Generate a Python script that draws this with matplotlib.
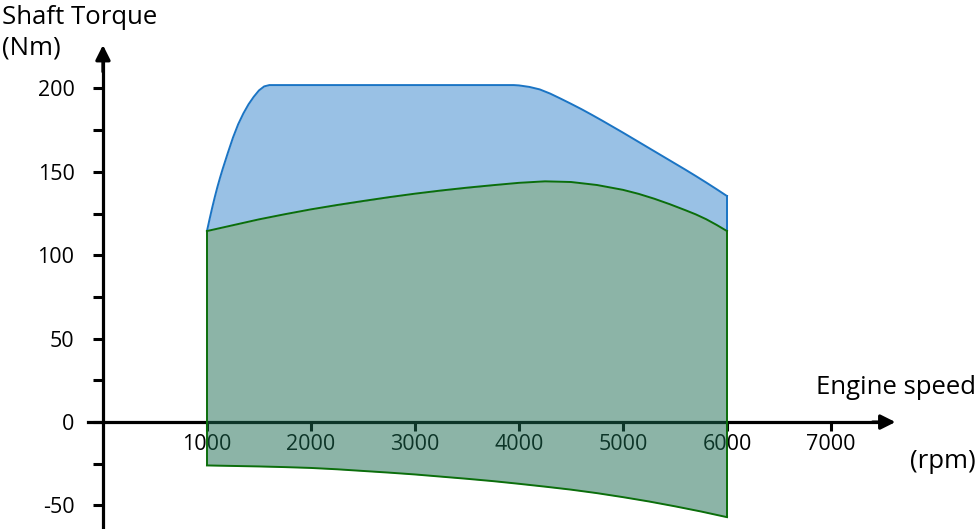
# -*- coding: utf-8 -*-

"""
发动机扭矩-转速图
"""

import matplotlib
matplotlib.use('Agg')
import matplotlib.pyplot as plt
import numpy as np

matplotlib.rcParams['font.family'] = ['Open Sans', 'DejaVu Sans']
matplotlib.rcParams['axes.unicode_minus'] = False

# 最大扭矩曲线 (rpm, Nm)
max_rpm = [1000, 1025, 1050, 1075, 1100, 1125, 1150, 1200, 1250, 1300, 1350,
           1400, 1450, 1500, 1550, 1600, 2000, 3000, 3950, 4000, 4100, 4200,
           4300, 4400, 4500, 4600, 4700, 4800, 4900, 5000, 5100, 5200, 5300,
           5400, 5500, 5600, 5700, 5800, 5900, 6000]
max_torque = [114.5, 121.6, 128.4, 134.8, 140.8, 146.3, 151.5, 161.2, 170.5,
              178.5, 185, 190.5, 195, 198.8, 201.2, 202, 202, 202, 202, 201.8,
              200.9, 199.4, 196.9, 193.9, 190.8, 187.6, 184.2, 180.7, 177.1,
              173.5, 169.8, 166.1, 162.4, 158.7, 155, 151.3, 147.5, 143.6,
              139.6, 135.5]

# 常用扭矩曲线
mid_rpm = [1000, 1250, 1500, 1750, 2000, 2250, 2500, 2750, 3000, 3250, 3500,
           3750, 4000, 4250, 4500, 4750, 5000, 5150, 5300, 5450, 5600, 5700,
           5800, 5900, 6000]
mid_torque = [114.5, 118, 121.5, 124.6, 127.5, 130.1, 132.5, 134.8, 136.9,
              138.8, 140.5, 142, 143.4, 144.3, 143.9, 142.1, 139.2, 136.8,
              133.9, 130.6, 127, 124.5, 121.6, 118.2, 114.5]

# 拖动扭矩曲线
low_rpm = [1000, 1250, 1500, 1750, 2000, 2250, 2500, 2750, 3000, 3250, 3500,
           3750, 4000, 4250, 4500, 4750, 5000, 5250, 5500, 5750, 6000]
low_torque = [-26, -26.3, -26.6, -27, -27.5, -28.3, -29.3, -30.3, -31.4,
              -32.7, -34, -35.4, -37, -38.7, -40.5, -42.6, -45, -47.6, -50.5,
              -53.6, -57]

x_ticks = [1000, 2000, 3000, 4000, 5000, 6000, 7000]
y_ticks = [-50, 0, 50, 100, 150, 200]
y_minor = [-25, 25, 75, 125, 175]

W, H = 980, 529


def fig_text(fig, px, py, s, ha='left'):
    """按像素位置写字"""
    fig.text(px / W, 1 - py / H, s, fontsize=18.5, va='center', ha=ha)


def main():
    fig = plt.figure(figsize=(W / 100, H / 100), dpi=100)
    ax = fig.add_axes([0, 0, 1, 1])
    ax.set_xlim(-990, 8433)
    ax.set_ylim(-64.1, 253)
    ax.patch.set_visible(False)

    # 坐标轴
    for side in ('top', 'right'):
        ax.spines[side].set_visible(False)
    ax.spines['left'].set_position(('data', 0))
    ax.spines['bottom'].set_position(('data', 0))
    ax.spines['left'].set_bounds(-63, 220)
    ax.spines['bottom'].set_bounds(-144, 7500)
    for side in ('left', 'bottom'):
        ax.spines[side].set_linewidth(2.3)
        ax.spines[side].set_zorder(1)

    ax.annotate('', xy=(0, 226), xytext=(0, 210),
                arrowprops=dict(arrowstyle='-|>', mutation_scale=22,
                                color='black', lw=2.3, shrinkA=0, shrinkB=0))
    ax.annotate('', xy=(7620, 0), xytext=(7400, 0),
                arrowprops=dict(arrowstyle='-|>', mutation_scale=22,
                                color='black', lw=2.3, shrinkA=0, shrinkB=0))

    ax.set_xticks(x_ticks)
    ax.set_xticklabels([str(v) for v in x_ticks])
    ax.set_yticks(y_ticks)
    ax.set_yticklabels([str(v) for v in y_ticks])
    ax.set_yticks(y_minor, minor=True)
    ax.tick_params(axis='y', which='both', direction='out', length=7.5,
                   width=2.2, labelsize=15.5, pad=13)
    ax.tick_params(axis='x', direction='out', length=6.5, width=2.2,
                   labelsize=15.5, pad=2)

    # 填充区域
    ax.fill_between(max_rpm, np.interp(max_rpm, mid_rpm, mid_torque), max_torque,
                    color='#5b9bd5', alpha=0.62, lw=0, zorder=3)
    ax.plot(max_rpm, max_torque, color='#1a74c4', lw=1.4, zorder=4)
    ax.plot([6000, 6000], [mid_torque[-1], max_torque[-1]], color='#1a74c4',
            lw=1.4, zorder=4)

    ax.fill_between(mid_rpm, np.interp(mid_rpm, low_rpm, low_torque), mid_torque,
                    color='#1b6b51', alpha=0.5, lw=0, zorder=3)
    ax.plot(mid_rpm, mid_torque, color='#0b6e0b', lw=1.4, zorder=4)
    ax.plot(low_rpm, low_torque, color='#0b6e0b', lw=1.4, zorder=4)
    ax.plot([1000, 1000], [low_torque[0], mid_torque[0]], color='#0b6e0b',
            lw=1.4, zorder=4)
    ax.plot([6000, 6000], [low_torque[-1], mid_torque[-1]], color='#0b6e0b',
            lw=1.4, zorder=4)

    # 轴标题
    fig_text(fig, 2, 17, 'Shaft Torque')
    fig_text(fig, 2, 48, '(Nm)')
    fig_text(fig, 976, 388, 'Engine speed', ha='right')
    fig_text(fig, 976, 461, '(rpm)', ha='right')

    plt.savefig('out.png', dpi=100)


if __name__ == '__main__':
    main()
